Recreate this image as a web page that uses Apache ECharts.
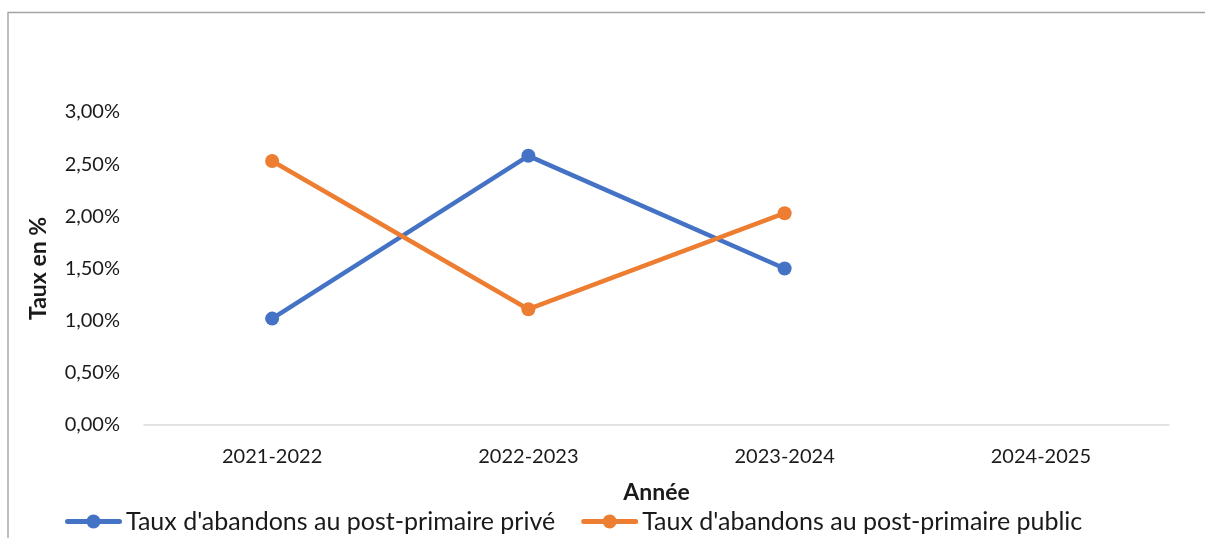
<!DOCTYPE html>
<html>
<head>
<meta charset="utf-8">
<script src="https://cdn.jsdelivr.net/npm/echarts@6/dist/echarts.min.js"></script>
<style>
  html, body { margin: 0; padding: 0; background: #ffffff; }
  #chart { width: 1205px; height: 538px; }
</style>
</head>
<body>
<div id="chart"></div>
<script>
// School years on the horizontal axis
const years = ['2021-2022', '2022-2023', '2023-2024', '2024-2025'];
// Dropout rates (in %) for each sector; 2024-2025 not yet available
const privateRates = [1.02, 2.58, 1.50, null];
const publicRates = [2.53, 1.11, 2.03, null];
const seriesNames = [
  "Taux d'abandons au post-primaire privé",
  "Taux d'abandons au post-primaire public"
];
const yTicks = { min: 0, max: 3, step: 0.5 };

const FONT = 'Lato';
const TEXT = '#1a1a1a';

// Legend key: thick rounded stroke with a round marker in the middle (57 x 14 box)
const LEGEND_ICON = 'path://M2.5,4.5 H54.5 A2.5,2.5 0 0 1 54.5,9.5 H2.5 A2.5,2.5 0 0 1 2.5,4.5 Z ' +
  'M21.5,7 A7,7 0 0 1 35.5,7 A7,7 0 0 1 21.5,7 Z';

const chart = echarts.init(document.getElementById('chart'), null, { renderer: 'canvas' });

const lineSeries = (name, data, color) => ({
  name: name,
  type: 'line',
  data: data,
  symbol: 'circle',
  symbolSize: 14,
  showSymbol: true,
  connectNulls: false,
  lineStyle: { color: color, width: 4.5 },
  itemStyle: { color: color },
  emphasis: { disabled: true }
});

chart.setOption({
  animation: false,
  backgroundColor: '#ffffff',
  textStyle: { fontFamily: FONT },
  graphic: [{
    type: 'rect',
    silent: true,
    shape: { x: 8, y: 12.5, width: 1400, height: 700 },
    style: { fill: 'none', stroke: '#a3a3a3', lineWidth: 1.4 }
  }],
  grid: { left: 144, right: 36, top: 112, bottom: 113, containLabel: false },
  legend: {
    left: 65,
    top: 509,
    padding: 0,
    icon: LEGEND_ICON,
    itemWidth: 57,
    itemHeight: 14,
    itemGap: 26,
    itemStyle: { borderWidth: 0 },
    textStyle: { fontFamily: FONT, fontSize: 25, color: TEXT, padding: [0, 0, 0, -1] },
    data: seriesNames
  },
  xAxis: {
    type: 'category',
    data: years,
    boundaryGap: true,
    name: 'Année',
    nameLocation: 'middle',
    nameGap: 56,
    nameTextStyle: { fontFamily: FONT, fontSize: 23, fontWeight: 'bold', color: TEXT },
    axisLine: { show: true, lineStyle: { color: '#d9d9d9', width: 1.5 } },
    axisTick: { show: false },
    axisLabel: { margin: 22, fontFamily: FONT, fontSize: 20, color: TEXT },
    splitLine: { show: false }
  },
  yAxis: {
    type: 'value',
    min: yTicks.min,
    max: yTicks.max,
    interval: yTicks.step,
    name: 'Taux en %',
    nameLocation: 'middle',
    nameGap: 94,
    nameTextStyle: { fontFamily: FONT, fontSize: 23, fontWeight: 'bold', color: TEXT },
    axisLine: { show: false },
    axisTick: { show: false },
    splitLine: { show: false },
    axisLabel: {
      margin: 24,
      fontFamily: FONT,
      fontSize: 20,
      color: TEXT,
      formatter: v => v.toFixed(2).replace('.', ',') + '%'
    }
  },
  series: [
    lineSeries(seriesNames[0], privateRates, '#4472c4'),
    lineSeries(seriesNames[1], publicRates, '#ed7d31')
  ]
});
</script>
</body>
</html>
